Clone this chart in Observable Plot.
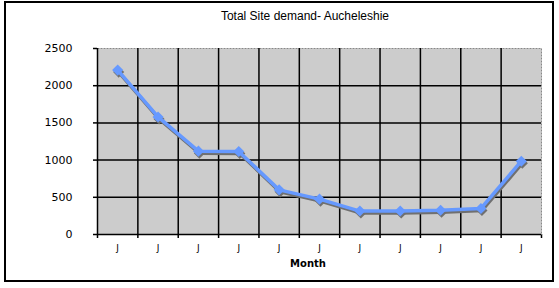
<!DOCTYPE html>
<html>
<head>
<meta charset="utf-8">
<script src="https://cdn.jsdelivr.net/npm/d3@7"></script>
<script src="https://cdn.jsdelivr.net/npm/@observablehq/plot@0.6"></script>
<style>
  body { margin: 0; background: #fff; }
  #wrap { position: relative; width: 559px; height: 288px; }
  #border { position: absolute; left: 4px; top: 1px; width: 546px; height: 277px; border: 2px solid #000; pointer-events: none; }
  svg [aria-label="x-axis"] line, svg [aria-label="y-axis"] line, svg [aria-label="x-axis tick"] path, svg [aria-label="y-axis tick"] path { stroke-width: 1.5; }
</style>
</head>
<body>
<div id="wrap"><div id="border"></div></div>
<script>
const months = ["J", "J", "J", "J", "J", "J", "J", "J", "J", "J", "J"];
const demand = [2210, 1580, 1120, 1115, 600, 475, 315, 315, 325, 350, 985];
const yTicks = [0, 500, 1000, 1500, 2000, 2500];

const data = months.map((m, i) => ({i: i + 0.5, label: m, value: demand[i]}));
const bounds = d3.range(0, months.length + 1);
const font = "Verdana, 'DejaVu Sans', sans-serif";

const chart = Plot.plot({
  width: 559,
  height: 288,
  marginLeft: 97,
  marginRight: 18,
  marginTop: 48,
  marginBottom: 54,
  style: {fontFamily: font, fontSize: "11px", background: "transparent", overflow: "visible", color: "#000"},
  x: {domain: [0, months.length], ticks: bounds, tickSize: 4, tickFormat: () => "", label: null, line: true},
  y: {domain: [0, 2500], ticks: yTicks, tickSize: 4, tickPadding: 21, tickFormat: d => String(d), label: null, line: true},
  marks: [
    Plot.frame({fill: "#cccccc", stroke: "#888", strokeDasharray: "2,1"}),
    Plot.ruleY(yTicks.filter(d => d > 0 && d < 2500), {stroke: "#000", strokeWidth: 1.5}),
    Plot.ruleX(bounds.filter(d => d > 0 && d < months.length), {stroke: "#000", strokeWidth: 1.5}),
    Plot.ruleX([0], {stroke: "#000", strokeWidth: 1.5}),
    Plot.ruleY([0], {stroke: "#000", strokeWidth: 1.5}),
    Plot.text(data, {x: "i", y: () => 0, text: "label", dy: 14, fill: "#000", fontSize: 9}),
    // shadow
    Plot.line(data, {x: "i", y: "value", stroke: "#707070", strokeWidth: 3.5, dx: 1, dy: 2, strokeLinejoin: "round"}),
    Plot.dot(data, {x: "i", y: "value", symbol: "diamond2", r: 5, fill: "#707070", dx: 1, dy: 2}),
    Plot.line(data, {x: "i", y: "value", stroke: "#6699ff", strokeWidth: 3.5, strokeLinejoin: "round"}),
    Plot.dot(data, {x: "i", y: "value", symbol: "diamond2", r: 5, fill: "#6699ff"})
  ]
});

const wrap = document.getElementById("wrap");
chart.style.position = "absolute";
chart.style.left = "0";
chart.style.top = "0";
wrap.insertBefore(chart, wrap.firstChild);

const title = document.createElement("div");
title.textContent = "Total Site demand- Aucheleshie";
Object.assign(title.style, {position: "absolute", left: "0", width: "610px", top: "9px", textAlign: "center", fontFamily: "Arial, 'Liberation Sans', sans-serif", fontSize: "12px", color: "#000"});
wrap.appendChild(title);

const xl = document.createElement("div");
xl.textContent = "Month";
Object.assign(xl.style, {position: "absolute", left: "0", width: "616px", top: "258px", textAlign: "center", fontFamily: font, fontSize: "10px", fontWeight: "bold", color: "#000"});
wrap.appendChild(xl);
</script>
</body>
</html>
